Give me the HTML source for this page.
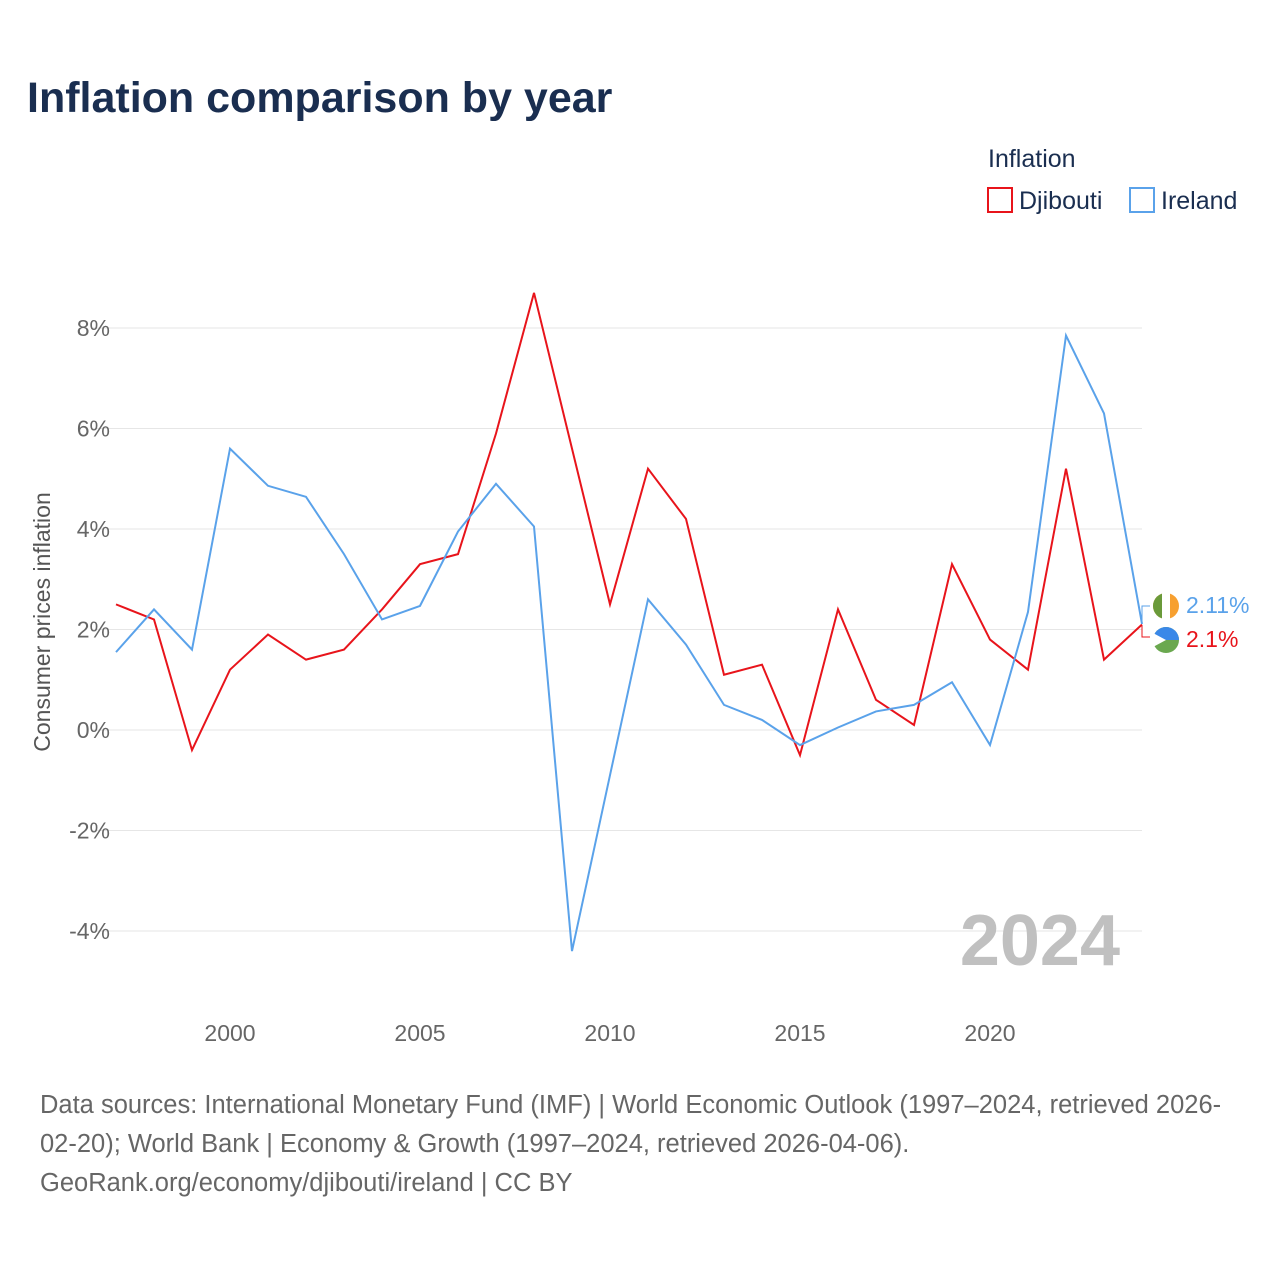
<!DOCTYPE html>
<html><head><meta charset="utf-8"><style>
body{margin:0;background:#fff;font-family:"Liberation Sans",sans-serif}
</style></head><body>
<svg id="chart" width="1280" height="1280" xmlns="http://www.w3.org/2000/svg">
<text x="27" y="112" font-size="43" font-weight="bold" fill="#1a2e50">Inflation comparison by year</text>
<text x="988" y="167" font-size="25" fill="#1a2e50">Inflation</text>
<g><rect x="988" y="188" width="24" height="24" fill="none" stroke="#e8141b" stroke-width="2"/><text x="1019" y="209" font-size="25" fill="#1a2e50">Djibouti</text></g>
<g><rect x="1130" y="188" width="24" height="24" fill="none" stroke="#5aa2ea" stroke-width="2"/><text x="1161" y="209" font-size="25" fill="#1a2e50">Ireland</text></g>
<text transform="translate(50,622) rotate(-90)" text-anchor="middle" font-size="23" fill="#555">Consumer prices inflation</text>
<g id="grid"></g><g id="xt"></g>
<text x="1120" y="965" text-anchor="end" font-size="72" font-weight="bold" fill="#c0c0c0">2024</text>
<g id="lines"></g>
<g>
<path d="M1142,624 V606 H1150" fill="none" stroke="#5aa2ea" stroke-width="1"/>
<path d="M1142,625 V637 H1150" fill="none" stroke="#e8141b" stroke-width="1"/>
<circle cx="1166" cy="606" r="13" fill="#f7a030"/><path d="M1166,593 A13,13 0 0 0 1166,619 Z" fill="#6a9a3a"/><rect x="1162" y="593" width="8" height="26" fill="#fff"/>
<circle cx="1166" cy="640" r="13" fill="#6aa84f"/><path d="M1153,640 A13,13 0 0 1 1179,640 Z" fill="#3a88e8"/><path d="M1153,633 L1166,640 L1153,647 Z" fill="#fff"/>
<text x="1186" y="613" font-size="23" fill="#5aa2ea">2.11%</text>
<text x="1186" y="647" font-size="23" fill="#e8141b">2.1%</text>
</g>
<text x="40" y="1113" font-size="25.5" fill="#666">Data sources: International Monetary Fund (IMF) | World Economic Outlook (1997–2024, retrieved 2026-</text>
<text x="40" y="1152" font-size="25.5" fill="#666">02-20); World Bank | Economy &amp; Growth (1997–2024, retrieved 2026-04-06).</text>
<text x="40" y="1191" font-size="25.5" fill="#666">GeoRank.org/economy/djibouti/ireland | CC BY</text>
</svg>
<script>
const years=[1997,1998,1999,2000,2001,2002,2003,2004,2005,2006,2007,2008,2009,2010,2011,2012,2013,2014,2015,2016,2017,2018,2019,2020,2021,2022,2023,2024];
const djibouti=[2.5,2.2,-0.4,1.2,1.9,1.4,1.6,2.4,3.3,3.5,5.9,8.7,5.6,2.5,5.2,4.2,1.1,1.3,-0.5,2.4,0.6,0.1,3.3,1.8,1.2,5.2,1.4,2.1];
const ireland=[1.55,2.4,1.6,5.6,4.86,4.64,3.5,2.2,2.47,3.95,4.9,4.05,-4.4,-0.9,2.6,1.7,0.5,0.2,-0.3,0.05,0.37,0.5,0.95,-0.3,2.35,7.85,6.3,2.11];
const yTicks=[-4,-2,0,2,4,6,8];
const xTicks=[2000,2005,2010,2015,2020];
const X=y=>116+(y-1997)*38;
const Y=v=>730-v*50.25;
const NS="http://www.w3.org/2000/svg";
const g=document.getElementById('grid'),xt=document.getElementById('xt'),L=document.getElementById('lines');
yTicks.forEach(t=>{
 const l=document.createElementNS(NS,'line');
 l.setAttribute('x1',92);l.setAttribute('x2',1142);l.setAttribute('y1',Y(t));l.setAttribute('y2',Y(t));
 l.setAttribute('stroke','#e6e6e6');l.setAttribute('stroke-width',1);
 
 
 g.appendChild(l);
 const tx=document.createElementNS(NS,'text');
 tx.setAttribute('x',110);tx.setAttribute('y',Y(t)+8);tx.setAttribute('text-anchor','end');
 tx.setAttribute('font-size',23);tx.setAttribute('fill','#666');tx.textContent=t+'%';
 
 
 g.appendChild(tx);
});
xTicks.forEach(t=>{
 const tx=document.createElementNS(NS,'text');
 tx.setAttribute('x',X(t));tx.setAttribute('y',1041);tx.setAttribute('text-anchor','middle');
 tx.setAttribute('font-size',23);tx.setAttribute('fill','#666');tx.textContent=t;
 
 
 xt.appendChild(tx);
});
function line(vals,color,name){
 const p=document.createElementNS(NS,'polyline');
 p.setAttribute('points',vals.map((v,i)=>X(years[i])+','+Y(v)).join(' '));
 p.setAttribute('fill','none');p.setAttribute('stroke',color);p.setAttribute('stroke-width',2);
 
 
 L.appendChild(p);
}
line(djibouti,'#e8141b','djibouti-line');
line(ireland,'#5aa2ea','ireland-line');
</script>
</body></html>
